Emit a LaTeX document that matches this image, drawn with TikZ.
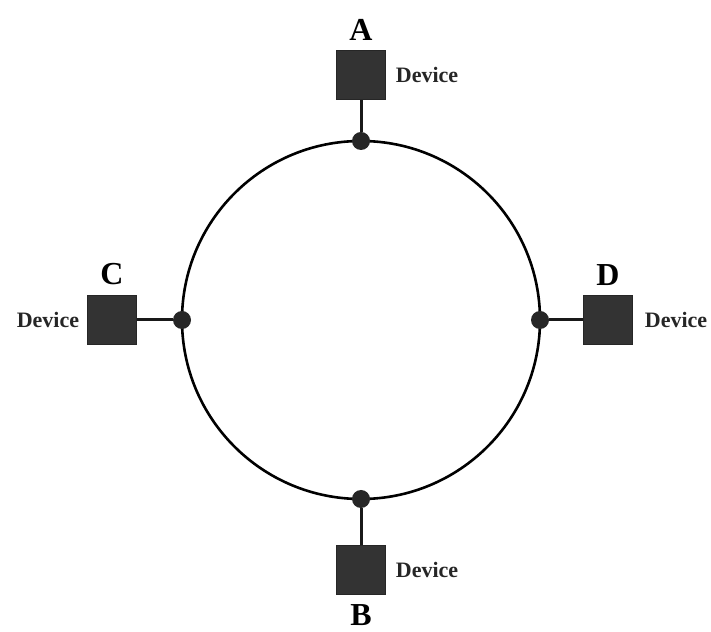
\documentclass[tikz,border=0pt]{standalone}
\usepackage{fontspec}
\setmainfont{Liberation Serif}
\usetikzlibrary{positioning}

\begin{document}
\begin{tikzpicture}[x=1pt, y=1pt,
  dev/.style={draw=black!85, fill=black!80, minimum size=49pt, inner sep=0pt},
  tap/.style={circle, fill=black!85, minimum size=18pt, inner sep=0pt},
  lbl/.style={font=\fontsize{32}{32}\selectfont\bfseries, inner sep=0pt},
  txt/.style={font=\fontsize{22}{22}\selectfont\bfseries, text=black!85, inner sep=0pt},
  wire/.style={line width=3pt, black!90},
  node distance=10pt and 10pt]
\useasboundingbox (0,0) rectangle (711,631);
\node[draw, circle, minimum size=358pt, line width=2.6pt, outer sep=0pt] (ring) at (361,311) {};
\node[tap] (ta) at (ring.north) {};
\node[tap] (tb) at (ring.south) {};
\node[tap] (tc) at (ring.west) {};
\node[tap] (td) at (ring.east) {};
\node[dev] (a) at (361,556) {};
\node[dev] (b) at (361,61) {};
\node[dev] (c) at (112,311) {};
\node[dev] (d) at (608,311) {};
\node[lbl, above=of a] (la) {A};
\node[lbl, below=of b] (lb) {B};
\node[lbl, above=of c] (lc) {C};
\node[lbl, above=of d] (ld) {D};
\node[txt, right=of a] (da) {Device};
\node[txt, right=of b] (db) {Device};
\node[txt, left=8pt of c] (dc) {Device};
\node[txt, right=12pt of d] (dd) {Device};
\draw[wire] (ta) -- (a); \draw[wire] (tb) -- (b);
\draw[wire] (tc) -- (c); \draw[wire] (td) -- (d);
\end{tikzpicture}
\end{document}
